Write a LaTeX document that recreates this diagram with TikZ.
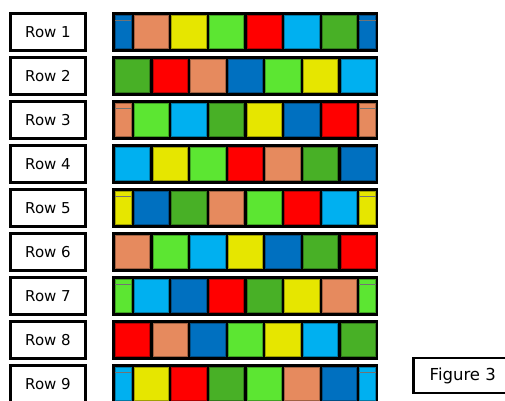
\documentclass[tikz,border=0pt]{standalone}
\usepackage{fontspec}
\setmainfont{DejaVu Sans}
\usetikzlibrary{positioning}
\definecolor{tileblue}{HTML}{0070C0}
\definecolor{tileorange}{HTML}{E68A5E}
\definecolor{tileyellow}{HTML}{E6E600}
\definecolor{tilelime}{HTML}{5CE632}
\definecolor{tilered}{HTML}{FF0000}
\definecolor{tilecyan}{HTML}{00B0F0}
\definecolor{tilegreen}{HTML}{48B026}
\tikzset{
    rowlabel/.style = {rectangle, draw, line width=2.8pt, fill=white, minimum width=75.2pt,
                        minimum height=37.2pt, inner sep=0pt, font=\fontsize{15}{18}\selectfont},
    strip/.style = {rectangle, fill=black, minimum width=266pt, minimum height=39.4pt, inner sep=0pt},
    tile/.style = {rectangle, fill=#1, draw=#1!70!black, line width=0.6pt, minimum width=34.4pt,
                        minimum height=33.4pt, inner sep=0pt},
    halftile/.style = {tile=#1, minimum width=15.6pt},
    seam/.style = {draw=black!55, line width=0.9pt},
    figlabel/.style = {rectangle, draw, line width=2.2pt, fill=white, minimum width=95.5pt,
                        minimum height=34.7pt, inner sep=0pt, font=\fontsize{16.5}{19}\selectfont}
}
\begin{document}
\begin{tikzpicture}[x=1pt, y=-1pt]
	\useasboundingbox (0,0) rectangle (505,400);
	\foreach \r/\shift/\colors in {
		1/1/{tileblue,tileorange,tileyellow,tilelime,tilered,tilecyan,tilegreen},
		2/0/{tilegreen,tilered,tileorange,tileblue,tilelime,tileyellow,tilecyan},
		3/1/{tileorange,tilelime,tilecyan,tilegreen,tileyellow,tileblue,tilered},
		4/0/{tilecyan,tileyellow,tilelime,tilered,tileorange,tilegreen,tileblue},
		5/1/{tileyellow,tileblue,tilegreen,tileorange,tilelime,tilered,tilecyan},
		6/0/{tileorange,tilelime,tilecyan,tileyellow,tileblue,tilegreen,tilered},
		7/1/{tilelime,tilecyan,tileblue,tilered,tilegreen,tileyellow,tileorange},
		8/0/{tilered,tileorange,tileblue,tilelime,tileyellow,tilecyan,tilegreen},
		9/1/{tilecyan,tileyellow,tilered,tilegreen,tilelime,tileorange,tileblue}} {
		\pgfmathsetmacro{\y}{32+44*(\r-1)}
		\node (row\r) [rowlabel] at (48,\y) {Row \r};
		\node (strip\r) [strip] at (245.3,\y) {};
		\ifnum\shift=0
			\foreach \c [count=\k from 0] in \colors
				\node (tile\r-\k) [tile=\c] at (132.5+37.6*\k,\y) {};
		\else
			\foreach \c [count=\k from 0] in \colors {
				\ifnum\k=0
					% half tiles at both ends of the strip
					\node (tile\r-0) [halftile=\c] at (123.1,\y) {};
					\node (tile\r-7) [halftile=\c] at (367.5,\y) {};
					\draw [seam] ([yshift=-5pt]tile\r-0.north west) -- ([yshift=-5pt]tile\r-0.north east);
					\draw [seam] ([yshift=-5pt]tile\r-7.north west) -- ([yshift=-5pt]tile\r-7.north east);
				\else
					\node (tile\r-\k) [tile=\c] at (151.3+37.6*\k-37.6,\y) {};
				\fi
			}
		\fi
	}
	\node (fig) [figlabel] at (461.3,375.6) {\hspace{3pt}Figure 3};
\end{tikzpicture}
\end{document}
